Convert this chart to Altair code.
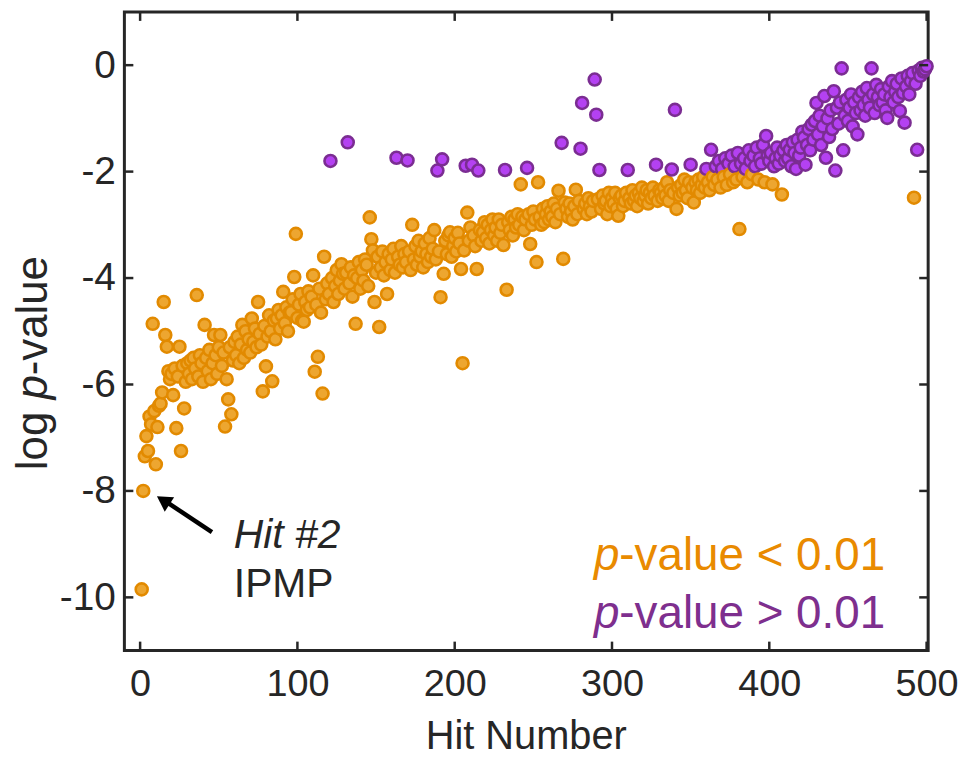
import altair as alt
import pandas as pd

# log10 p-value of each hit, in hit order (hit 1 .. 500)
log_p = [
    -9.85, -8.00, -7.35, -6.97, -7.25, -6.60, -6.75, -4.86, -6.50, -7.50,
    -6.80, -6.40, -6.36, -6.15, -4.45, -5.07, -5.29, -5.75, -5.90, -5.80,
    -6.20, -5.70, -6.82, -5.85, -5.29, -7.25, -5.65, -6.45, -5.95, -5.60,
    -5.80, -5.55, -5.90, -5.50, -5.70, -4.32, -5.85, -5.45, -5.60, -5.95,
    -4.88, -5.50, -5.75, -5.35, -5.90, -5.60, -5.07, -5.45, -5.80, -5.30,
    -5.07, -5.65, -5.40, -6.79, -5.90, -6.28, -5.30, -6.56, -5.55, -5.20,
    -5.45, -5.10, -5.60, -5.25, -4.88, -5.50, -5.00, -5.35, -5.15, -5.40,
    -4.76, -5.20, -4.95, -5.30, -4.45, -5.05, -5.25, -6.13, -4.90, -5.66,
    -5.10, -4.70, -5.00, -5.94, -4.80, -5.15, -4.76, -4.60, -4.95, -4.70,
    -4.26, -4.85, -4.55, -5.00, -4.65, -4.64, -4.40, -3.98, -3.17, -4.75,
    -4.50, -4.30, -4.80, -4.82, -4.45, -4.60, -4.25, -4.55, -4.35, -3.95,
    -5.76, -4.50, -5.48, -4.20, -4.65, -6.17, -3.60, -4.40, -4.10, -4.30,
    -1.80, -4.00, -4.45, -4.15, -3.85, -4.30, -4.05, -3.74, -3.92, -4.20,
    -3.90, -1.45, -4.10, -3.80, -4.35, -3.95, -4.86, -4.00, -3.70, -4.20,
    -3.85, -4.05, -3.65, -3.75, -4.15, -2.86, -3.27, -3.48, -4.45, -3.90,
    -3.60, -4.92, -3.80, -3.50, -3.95, -3.70, -4.30, -3.55, -3.85, -3.65,
    -3.45, -3.90, -1.74, -3.60, -3.75, -3.40, -3.80, -3.55, -3.70, -1.79,
    -3.50, -3.85, -3.00, -3.65, -3.40, -3.75, -3.30, -3.60, -3.50, -3.80,
    -3.35, -3.55, -3.70, -3.25, -3.60, -3.45, -3.10, -3.65, -1.98, -3.50,
    -4.36, -1.77, -3.92, -3.30, -3.55, -3.20, -3.14, -3.60, -3.40, -3.25,
    -3.50, -3.15, -3.35, -3.83, -5.60, -3.48, -1.89, -2.77, -3.30, -3.05,
    -1.87, -3.20, -3.40, -3.83, -1.98, -3.10, -3.30, -3.14, -2.95, -3.25,
    -3.00, -3.35, -3.10, -2.90, -3.20, -3.05, -3.30, -2.90, -3.15, -3.00,
    -3.38, -1.97, -4.22, -2.95, -3.10, -2.85, -3.20, -2.90, -3.05, -2.80,
    -3.00, -2.24, -2.85, -3.10, -2.90, -1.93, -2.80, -3.36, -3.00, -2.75,
    -2.90, -3.70, -2.20, -2.85, -3.00, -2.70, -2.95, -2.80, -2.65, -2.90,
    -2.75, -2.85, -2.60, -2.95, -2.70, -2.36, -2.80, -1.46, -3.64, -2.58,
    -2.70, -2.85, -2.60, -2.75, -2.90, -2.65, -2.34, -2.80, -2.55, -1.57,
    -0.71, -2.70, -2.60, -2.80, -2.50, -2.65, -2.75, -2.55, -0.27, -0.93,
    -2.52, -1.97, -2.70, -2.45, -2.60, -2.55, -2.80, -2.40, -2.65, -2.50,
    -2.60, -2.40, -2.70, -2.83, -2.50, -2.45, -2.65, -2.55, -2.40, -1.97,
    -2.50, -2.60, -2.35, -2.55, -2.45, -2.65, -2.40, -2.50, -2.30, -2.55,
    -2.45, -2.35, -2.60, -2.40, -2.50, -2.30, -2.45, -1.87, -2.55, -2.35,
    -2.40, -2.50, -2.30, -2.45, -2.20, -2.55, -2.35, -1.96, -2.40, -0.84,
    -2.70, -2.30, -2.45, -2.25, -2.40, -2.15, -2.35, -2.50, -2.20, -1.87,
    -2.30, -2.58, -2.20, -2.35, -2.15, -2.40, -2.25, -2.10, -2.30, -1.95,
    -2.20, -2.35, -1.59, -2.10, -2.25, -1.90, -2.15, -1.80, -2.30, -1.95,
    -2.10, -1.75, -2.25, -1.85, -2.05, -1.70, -2.20, -1.90, -2.15, -1.65,
    -3.08, -1.85, -2.10, -1.75, -1.95, -2.20, -1.60, -1.80, -2.05, -1.70,
    -1.90, -1.55, -2.15, -1.75, -1.85, -1.50, -2.20, -1.33, -1.70, -1.80,
    -1.65, -2.24, -1.90, -1.75, -1.55, -1.85, -1.70, -2.43, -1.60, -1.80,
    -1.50, -1.75, -1.59, -1.90, -1.45, -1.65, -1.95, -1.40, -1.70, -1.55,
    -1.25, -1.36, -1.87, -1.50, -1.20, -1.60, -1.12, -1.40, -1.05, -0.71,
    -1.30, -0.95, -1.50, -1.15, -0.58, -1.74, -1.00, -1.35, -0.85, -1.20,
    -0.49, -1.98, -0.80, -1.10, -0.70, -0.06, -1.60, -0.95, -0.65, -1.05,
    -0.80, -0.55, -1.15, -0.70, -0.90, -1.30, -0.60, -0.85, -0.50, -0.75,
    -0.95, -0.43, -0.65, -0.80, -0.06, -0.55, -0.90, -0.37, -0.60, -0.75,
    -0.45, -0.70, -0.55, -0.85, -0.99, -0.40, -0.60, -0.30, -0.70, -0.50,
    -0.35, -0.60, -0.86, -0.25, -0.52, -1.08, -0.40, -0.20, -0.55, -0.30,
    -0.15, -2.49, -0.35, -1.59, -0.10, -0.20, -0.05, -0.12, -0.08, -0.02,
]
hit_number = list(range(1, len(log_p) + 1))
group = ["below" if v < -2 else "above" for v in log_p]

x_ticks = [0, 100, 200, 300, 400, 500]
y_ticks = [0, -2, -4, -6, -8, -10]

FONT = "Liberation Sans"
INK = "#262626"
ORANGE_FILL, ORANGE_EDGE, ORANGE_TEXT = "#EDA630", "#E28A00", "#E98A00"
PURPLE_FILL, PURPLE_EDGE, PURPLE_TEXT = "#B441F2", "#7B2D92", "#7E2F8E"

W, H = 808, 642

df = pd.DataFrame({"hit": hit_number, "logp": log_p, "group": group})

xs = alt.Scale(domain=[-10, 501], nice=False, zero=False)
ys = alt.Scale(domain=[-11, 1], nice=False, zero=False)

points = alt.Chart(df).mark_point(filled=True, size=145, strokeWidth=2.6, opacity=1).encode(
    x=alt.X("hit:Q", scale=xs,
            axis=alt.Axis(values=x_ticks, ticks=False, domain=False, grid=False,
                          labelPadding=15, title=None, labelFontSize=38,
                          labelFont=FONT, labelColor=INK)),
    y=alt.Y("logp:Q", scale=ys,
            axis=alt.Axis(values=y_ticks, ticks=False, domain=False, grid=False,
                          labelPadding=9, title=None, labelFontSize=39,
                          labelFont=FONT, labelColor=INK,
                          labelExpr="toString(datum.value)")),
    fill=alt.Fill("group:N", scale=alt.Scale(domain=["below", "above"],
                                             range=[ORANGE_FILL, PURPLE_FILL]), legend=None),
    stroke=alt.Stroke("group:N", scale=alt.Scale(domain=["below", "above"],
                                                 range=[ORANGE_EDGE, PURPLE_EDGE]), legend=None),
)

TL = 9
xt = alt.Chart(pd.DataFrame({"t": x_ticks}))
yt = alt.Chart(pd.DataFrame({"t": y_ticks}))
rule_kw = dict(color=INK, strokeWidth=2.5)
ticks = [
    xt.mark_rule(**rule_kw).encode(x=alt.X("t:Q", scale=xs), y=alt.value(H), y2=alt.value(H - TL)),
    xt.mark_rule(**rule_kw).encode(x=alt.X("t:Q", scale=xs), y=alt.value(0), y2=alt.value(TL)),
    yt.mark_rule(**rule_kw).encode(y=alt.Y("t:Q", scale=ys), x=alt.value(0), x2=alt.value(TL)),
    yt.mark_rule(**rule_kw).encode(y=alt.Y("t:Q", scale=ys), x=alt.value(W), x2=alt.value(W - TL)),
]


def txt(s, x, y, size, color=INK, italic=False, align="left", angle=0, baseline="alphabetic"):
    kw = dict(font=FONT, fontSize=size, color=color, align=align, baseline=baseline)
    if italic:
        kw["fontStyle"] = "italic"
    if angle:
        kw["angle"] = angle
    return alt.Chart(pd.DataFrame({"s": [s]})).mark_text(**kw).encode(
        text="s:N", x=alt.value(x), y=alt.value(y))


# y-axis title "log p-value", rotated, with italic p
TFS = 44
w_log = 1.612 * TFS
w_p = 0.556 * TFS
w_rest = 2.723 * TFS
total = w_log + w_p + w_rest
y_start = 353 + total / 2
bx = -78
ytitle = [
    txt("log ", bx, y_start, TFS, angle=270),
    txt("p", bx, y_start - w_log, TFS, italic=True, angle=270),
    txt("-value", bx, y_start - w_log - w_p, TFS, angle=270),
]
xtitle = txt("Hit Number", W / 2, 741, 40, align="center")

LFS = 46
lx = 472 + 0.556 * LFS
legend_txt = [
    txt("p", lx, 561, LFS, ORANGE_TEXT, italic=True, align="right"),
    txt("-value < 0.01", lx, 561, LFS, ORANGE_TEXT),
    txt("p", lx, 619, LFS, PURPLE_TEXT, italic=True, align="right"),
    txt("-value > 0.01", lx, 619, LFS, PURPLE_TEXT),
]

annot = [
    txt("Hit #2", 110, 539, 41, italic=True),
    txt("IPMP", 110, 588, 41),
]

arrow_line = alt.Chart(pd.DataFrame({"a": [0]})).mark_rule(color="black", strokeWidth=4.5).encode(
    x=alt.value(88), y=alt.value(523), x2=alt.value(40), y2=alt.value(491))
arrow_head = alt.Chart(pd.DataFrame({"a": [0]})).mark_point(
    shape="triangle-up", filled=True, color="black", size=300, angle=303, opacity=1).encode(
    x=alt.value(39), y=alt.value(491))

chart = alt.layer(points, *ticks, *ytitle, xtitle, *legend_txt, *annot, arrow_line, arrow_head).properties(
    width=W, height=H,
    autosize=alt.AutoSizeParams(type="none"),
    padding={"left": 117, "top": 2, "right": 31, "bottom": 104},
    background="white",
).configure_view(stroke=INK, strokeWidth=3)

chart.save("out.html", embed_options={"renderer": "svg", "actions": False})
